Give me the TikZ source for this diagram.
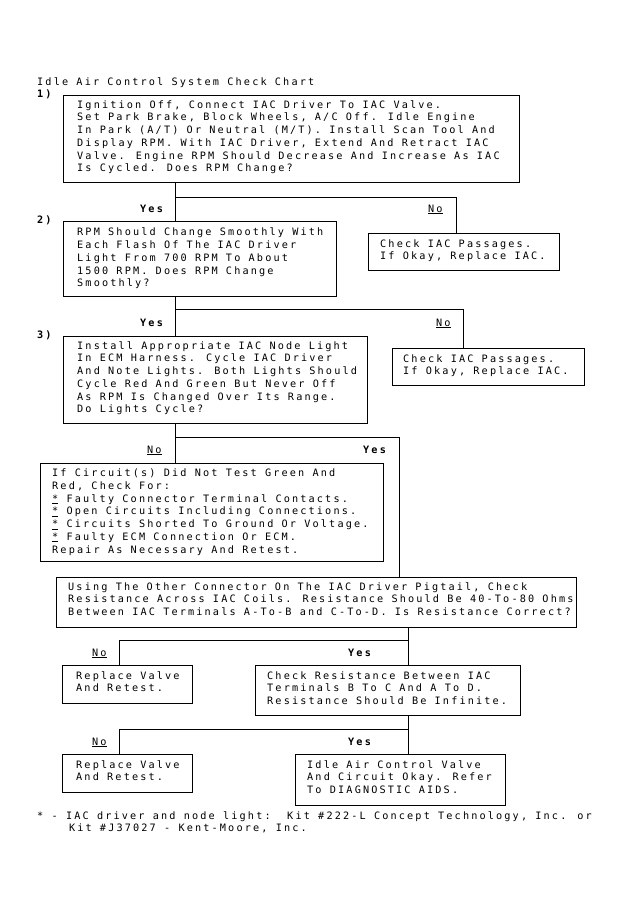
\documentclass[tikz,border=0pt]{standalone}
\usepackage{fontspec}
\newfontfamily\chartfont[LetterSpace=21]{DejaVu Sans Mono}
\begin{document}
\begin{tikzpicture}[x=1pt,y=-1pt,
  box/.style={draw,line width=1pt,rectangle,inner sep=0pt,anchor=north west},
  txt/.style={inner sep=0pt,anchor=north west,align=left,yshift=8.925pt,
    font=\chartfont\fontsize{10.2}{12.75}\selectfont,execute at begin node=\strut},
  lbl/.style={inner sep=0pt,anchor=base west,font=\chartfont\fontsize{10.2}{12.75}\selectfont},
  yes/.style={lbl,font=\chartfont\fontsize{10.2}{12.75}\selectfont\bfseries},
  conn/.style={line width=1pt}]
\useasboundingbox (0,0) rectangle (631,911);
% title and step numbers
\node[lbl] (title) at (37,85) {Idle Air Control System Check Chart};
\node[yes] (s1) at (37,97) {1)};
\node[yes] (s2) at (37,223) {2)};
\node[yes] (s3) at (37,338) {3)};
% boxes
\node[box,minimum width=456,minimum height=87] (b1) at (63,95) {};
\node[box,minimum width=273,minimum height=75] (b2) at (63,221) {};
\node[box,minimum width=191,minimum height=37] (b2n) at (368,233) {};
\node[box,minimum width=304,minimum height=87] (b3) at (63,336) {};
\node[box,minimum width=192,minimum height=37] (b3n) at (392,348) {};
\node[box,minimum width=343,minimum height=98] (b4) at (40,463) {};
\node[box,minimum width=520,minimum height=50] (b5) at (56,577) {};
\node[box,minimum width=130,minimum height=38] (b6) at (62,665) {};
\node[box,minimum width=265,minimum height=50] (b7) at (255,665) {};
\node[box,minimum width=130,minimum height=38] (b8) at (62,754) {};
\node[box,minimum width=210,minimum height=51] (b9) at (295,754) {};
% texts
\node[txt] (t1) at (77,109) {Ignition Off, Connect IAC Driver To IAC Valve.\\
Set Park Brake, Block Wheels, A/C Off. Idle Engine\\
In Park (A/T) Or Neutral (M/T). Install Scan Tool And\\
Display RPM. With IAC Driver, Extend And Retract IAC\\
Valve. Engine RPM Should Decrease And Increase As IAC\\
Is Cycled. Does RPM Change?};
\node[txt] (t2) at (77,236.7) {RPM Should Change Smoothly With\\
Each Flash Of The IAC Driver\\
Light From 700 RPM To About\\
1500 RPM. Does RPM Change\\
Smoothly?};
\node[txt] (t2n) at (380,248) {Check IAC Passages.\\
If Okay, Replace IAC.};
\node[txt] (t3) at (77,350) {Install Appropriate IAC Node Light\\
In ECM Harness. Cycle IAC Driver\\
And Note Lights. Both Lights Should\\
Cycle Red And Green But Never Off\\
As RPM Is Changed Over Its Range.\\
Do Lights Cycle?};
\node[txt] (t3n) at (403,363) {Check IAC Passages.\\
If Okay, Replace IAC.};
\node[txt] (t4) at (52,477.5) {If Circuit(s) Did Not Test Green And\\
Red, Check For:\\
\underline{*} Faulty Connector Terminal Contacts.\\
\underline{*} Open Circuits Including Connections.\\
\underline{*} Circuits Shorted To Ground Or Voltage.\\
\underline{*} Faulty ECM Connection Or ECM.\\
Repair As Necessary And Retest.};
\node[txt] (t5) at (68,591) {Using The Other Connector On The IAC Driver Pigtail, Check\\
Resistance Across IAC Coils. Resistance Should Be 40-To-80 Ohms\\
Between IAC Terminals A-To-B and C-To-D. Is Resistance Correct?};
\node[txt] (t6) at (76,680) {Replace Valve\\
And Retest.};
\node[txt] (t7) at (267,680) {Check Resistance Between IAC\\
Terminals B To C And A To D.\\
Resistance Should Be Infinite.};
\node[txt] (t8) at (76,769) {Replace Valve\\
And Retest.};
\node[txt] (t9) at (307,769) {Idle Air Control Valve\\
And Circuit Okay. Refer\\
To DIAGNOSTIC AIDS.};
\node[txt] (fn) at (37,820) {* - IAC driver and node light:\ \ Kit \#222-L Concept Technology, Inc. or\\
\hspace*{31.8pt}Kit \#J37027 - Kent-Moore, Inc.};
% connectors
\coordinate (j1) at (175,197); \coordinate (k1) at (456,197);
\draw[conn] (j1 |- b1.south) -- (j1 |- b2.north);
\draw[conn] (j1) -- (k1) -- (k1 |- b2n.north);
\coordinate (j2) at (175,309); \coordinate (k2) at (463,309);
\draw[conn] (j2 |- b2.south) -- (j2 |- b3.north);
\draw[conn] (j2) -- (k2) -- (k2 |- b3n.north);
\coordinate (j3) at (175,437); \coordinate (k3) at (399,437);
\draw[conn] (j3 |- b3.south) -- (j3 |- b4.north);
\draw[conn] (j3) -- (k3) -- (k3 |- b5.north);
\coordinate (j4) at (408,640); \coordinate (k4) at (119,640);
\draw[conn] (j4 |- b5.south) -- (j4 |- b7.north);
\draw[conn] (j4) -- (k4) -- (k4 |- b6.north);
\coordinate (j5) at (408,729); \coordinate (k5) at (119,729);
\draw[conn] (j5 |- b7.south) -- (j5 |- b9.north);
\draw[conn] (j5) -- (k5) -- (k5 |- b8.north);
% branch labels
\node[yes] (y1) at (140,212) {Yes};
\node[lbl] (n1) at (428,212) {\underline{No}};
\node[yes] (y2) at (140,326) {Yes};
\node[lbl] (n2) at (436,326) {\underline{No}};
\node[lbl] (n3) at (147,453) {\underline{No}};
\node[yes] (y3) at (363,453) {Yes};
\node[lbl] (n4) at (92,656) {\underline{No}};
\node[yes] (y4) at (348,656) {Yes};
\node[lbl] (n5) at (92,745) {\underline{No}};
\node[yes] (y5) at (348,745) {Yes};
\end{tikzpicture}
\end{document}
